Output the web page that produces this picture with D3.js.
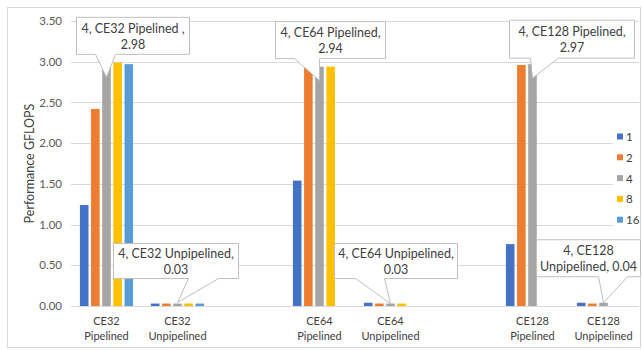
<!DOCTYPE html>
<html><head><meta charset="utf-8">
<script src="https://cdn.jsdelivr.net/npm/d3@7"></script>
<style>body{margin:0;background:#fff}svg{display:block}text{font-family:Lato,"Liberation Sans",sans-serif}</style>
</head><body><svg id="c" width="642" height="350"></svg>
<script>
const categories = ["CE32 Pipelined","CE32 Unpipelined","gap1","CE64 Pipelined","CE64 Unpipelined","gap2","CE128 Pipelined","CE128 Unpipelined"];
const categoryLines = [["CE32","Pipelined"],["CE32","Unpipelined"],[],["CE64","Pipelined"],["CE64","Unpipelined"],[],["CE128","Pipelined"],["CE128","Unpipelined"]];
const seriesNames = ["1","2","4","8","16"];
const seriesColors = ["#4472C4","#ED7D31","#A5A5A5","#FFC000","#5B9BD5"];
const s1  = [1.24, 0.03, null, 1.54, 0.04, null, 0.76, 0.04];
const s2  = [2.42, 0.03, null, 2.94, 0.03, null, 2.96, 0.03];
const s4  = [2.98, 0.03, null, 2.94, 0.03, null, 2.97, 0.04];
const s8  = [2.99, 0.03, null, 2.94, 0.03, null, null, null];
const s16 = [2.97, 0.03, null, null, null, null, null, null];
const seriesValues = [s1, s2, s4, s8, s16];
const yTicks = [0,0.5,1,1.5,2,2.5,3,3.5];
const callouts = [
  {cat:"CE32 Pipelined", s:"4", lines:["4, CE32 Pipelined ,","2.98"], box:[-30,83,-60,-23], base:[-11,9], tipDy:14},
  {cat:"CE64 Pipelined", s:"4", lines:["4, CE64 Pipelined,","2.94"], box:[-44,66,-59,-22], base:[-25,0], tipDy:14},
  {cat:"CE128 Pipelined", s:"4", lines:["4, CE128 Pipelined,","2.97"], box:[-23,102,-58,-20], base:[-2,26], tipDy:14},
  {cat:"CE32 Unpipelined", s:"4", lines:["4, CE32 Unpipelined,","0.03"], box:[-64,61,-59,-24], base:[11,41], tipDy:-1},
  {cat:"CE64 Unpipelined", s:"4", lines:["4, CE64 Unpipelined,","0.03"], box:[-56,67,-60,-25], base:[-35,-6], tipDy:0},
  {cat:"CE128 Unpipelined", s:"4", lines:["4, CE128","Unpipelined, 0.04"], box:[-67,37,-63,-26], base:[-5,24], tipDy:0}
];

const svg = d3.select("#c");
const L = 71, R = 639, T = 21, B = 306;
svg.append("rect").attr("x",7.5).attr("y",7.5).attr("width",633).attr("height",340).attr("fill","#fff").attr("stroke","#d9d9d9");

const x0 = d3.scaleBand().domain(categories).range([L,R]).paddingInner(0).paddingOuter(0);
const x1 = d3.scaleBand().domain(seriesNames).range([0,x0.bandwidth()]).paddingInner(0.23).paddingOuter(0.8);
const y = d3.scaleLinear().domain([0,3.5]).range([B,T]);

// gridlines
svg.append("g").selectAll("line").data(yTicks).join("line")
  .attr("x1",L).attr("x2",R).attr("y1",d=>Math.round(y(d))+0.5).attr("y2",d=>Math.round(y(d))+0.5)
  .attr("stroke","#d9d9d9").attr("stroke-width",1);

// y axis labels
const yAxis = d3.axisLeft(y).tickValues(yTicks).tickFormat(d3.format(".2f")).tickSize(0).tickPadding(9);
const ga = svg.append("g").attr("transform",`translate(${L},0)`).call(yAxis);
ga.select(".domain").remove();
ga.selectAll("text").attr("fill","#595959").style("font-size","11.5px").style("font-family","Lato,'Liberation Sans',sans-serif");

// y title
svg.append("text").attr("transform",`translate(34,${(T+B)/2}) rotate(-90)`).attr("text-anchor","middle")
  .attr("fill","#404040").style("font-size","12.5px").text("Performance GFLOPS");

// bars
const barData = [];
seriesValues.forEach((arr,si)=>arr.forEach((v,ci)=>{ if(v!=null) barData.push({cat:categories[ci], s:seriesNames[si], v, color:seriesColors[si]}); }));
svg.append("g").selectAll("rect").data(barData).join("rect")
  .attr("x",d=>x0(d.cat)+x1(d.s)).attr("width",x1.bandwidth())
  .attr("y",d=>y(d.v)).attr("height",d=>y(0)-y(d.v)).attr("fill",d=>d.color);

// baseline
svg.append("line").attr("x1",L).attr("x2",R).attr("y1",Math.round(y(0))+0.5).attr("y2",Math.round(y(0))+0.5).attr("stroke","#d9d9d9");

// category labels
const cg = svg.append("g");
categories.forEach((c,i)=>{
  const cx = x0(c)+x0.bandwidth()/2;
  categoryLines[i].forEach((ln,j)=>{
    cg.append("text").attr("x",cx).attr("y",325+j*15).attr("text-anchor","middle").attr("fill","#404040").style("font-size","11px").text(ln);
  });
});

// callouts
const cgl = svg.append("g");
callouts.forEach(c=>{
  const si = seriesNames.indexOf(c.s);
  const ci = categories.indexOf(c.cat);
  const tx = x0(c.cat)+x1(c.s)+x1.bandwidth()/2;
  const ty = y(seriesValues[si][ci]) + c.tipDy;
  const [l,r,t,b] = c.box;
  const X=v=>tx+v, Y=v=>ty+v;
  const p = `M${X(l)},${Y(t)}H${X(r)}V${Y(b)}H${X(c.base[1])}L${tx},${ty}L${X(c.base[0])},${Y(b)}H${X(l)}Z`;
  cgl.append("path").attr("d",p).attr("fill","#fff").attr("stroke","#bfbfbf").attr("stroke-width",1);
  const cx = tx+(l+r)/2, cy = ty+(t+b)/2;
  c.lines.forEach((ln,j)=>{
    cgl.append("text").attr("x",cx).attr("y",cy+(j-0.5)*16+5).attr("text-anchor","middle").attr("fill","#404040").style("font-size","12.5px").text(ln);
  });
});

// legend
const lg = svg.append("g");
lg.append("rect").attr("x",613).attr("y",128).attr("width",27).attr("height",102).attr("fill","#fff");
seriesNames.forEach((s,i)=>{
  const yy = 137 + i*20.8;
  lg.append("rect").attr("x",617).attr("y",yy-3.5).attr("width",6).attr("height",6).attr("fill",seriesColors[i]);
  lg.append("text").attr("x",626).attr("y",yy+4).attr("fill","#404040").style("font-size","11.5px").text(s);
});
</script></body></html>
